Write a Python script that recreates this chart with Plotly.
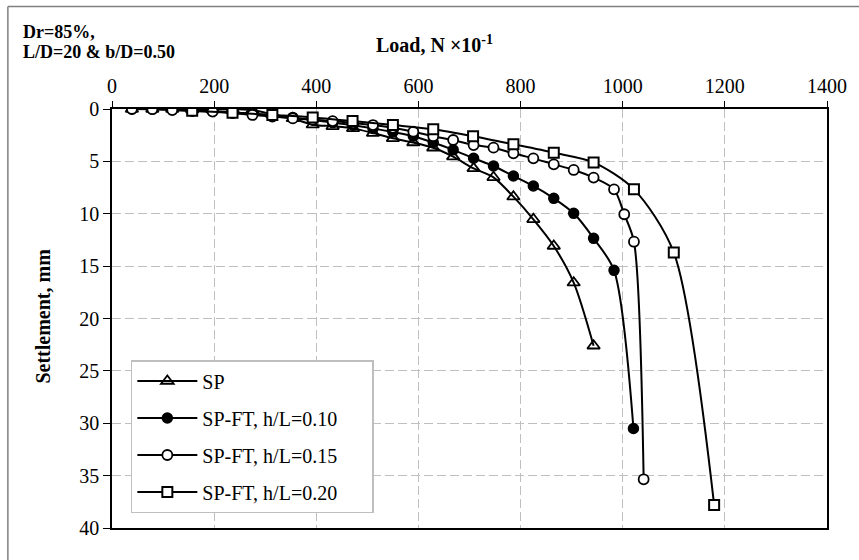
import plotly.graph_objects as go

# ---- data ----
load_sp = [39, 79, 118, 157, 197, 236, 275, 314, 354, 393, 432, 472, 511, 550, 590, 629, 668, 708, 747, 786, 825, 865, 904, 943]
settle_sp = [0, 0, 0, 0.05, 0.05, 0.0, 0.1, 0.5, 0.9, 1.5, 1.65, 1.85, 2.3, 2.8, 3.2, 3.7, 4.55, 5.67, 6.52, 8.37, 10.53, 13.08, 16.58, 22.6]

load_10 = [39, 79, 118, 157, 197, 236, 275, 314, 354, 393, 432, 472, 511, 550, 590, 629, 668, 708, 747, 786, 825, 865, 904, 943, 983, 1021]
settle_10 = [0, 0, 0.05, 0.1, 0.2, 0.3, 0.45, 0.6, 0.8, 1.05, 1.3, 1.55, 1.85, 2.2, 2.6, 3.2, 3.9, 4.7, 5.44, 6.4, 7.35, 8.53, 9.96, 12.35, 15.4, 30.5]

load_15 = [39, 79, 118, 157, 197, 236, 275, 314, 354, 393, 432, 472, 511, 550, 590, 629, 668, 708, 747, 786, 825, 865, 904, 943, 983, 1003, 1022, 1041]
settle_15 = [0, 0.02, 0.1, 0.2, 0.25, 0.4, 0.57, 0.72, 0.9, 1.02, 1.15, 1.35, 1.53, 1.8, 2.17, 2.6, 2.96, 3.44, 3.69, 4.23, 4.71, 5.28, 5.82, 6.55, 7.67, 10.05, 12.67, 35.35]

load_20 = [157, 236, 314, 393, 471, 550, 629, 707, 786, 865, 943, 1022, 1100, 1179]
settle_20 = [0.17, 0.35, 0.57, 0.8, 1.15, 1.53, 1.94, 2.6, 3.37, 4.17, 5.1, 7.67, 13.7, 37.8]

names = ["SP", "SP-FT, h/L=0.10", "SP-FT, h/L=0.15", "SP-FT, h/L=0.20"]
x_ticks = [0, 200, 400, 600, 800, 1000, 1200, 1400]
y_ticks = [0, 5, 10, 15, 20, 25, 30, 35, 40]

FONT = "Liberation Serif, Times New Roman, serif"
W, H = 859, 560
L, R, T, B = 112, 26, 109, 32
PW, PH = W - L - R, H - T - B

def px(x):
    return (x - L) / PW

def py(y):
    return (H - B - y) / PH

fig = go.Figure()

styles = [
    dict(symbol="triangle-up-open", size=11, color="black", line=dict(color="black", width=1.8)),
    dict(symbol="circle", size=10, color="black", line=dict(color="black", width=1.5)),
    dict(symbol="circle", size=10, color="white", line=dict(color="black", width=1.8)),
    dict(symbol="square", size=10, color="white", line=dict(color="black", width=2)),
]
series = [(load_sp, settle_sp), (load_10, settle_10), (load_15, settle_15), (load_20, settle_20)]

for i, ((xs, ys), nm, st) in enumerate(zip(series, names, styles)):
    fig.add_trace(go.Scatter(
        x=xs, y=ys, name=nm + "\u00a0" * 6, mode="lines+markers",
        line=dict(color="black", width=2, shape="spline", smoothing=0.8),
        marker=st, legendgroup="g%d" % i,
    ))

grid = dict(showgrid=True, gridcolor="#BFBFBF", gridwidth=1, griddash="9px,4px")

fig.update_xaxes(
    range=[0, 1400], tickvals=x_ticks, side="top",
    showline=True, linecolor="black", linewidth=1.5, mirror=True,
    ticks="outside", ticklen=6, tickcolor="black", tickwidth=1,
    tickfont=dict(family=FONT, size=20, color="black"),
    zeroline=False, **grid,
)
fig.update_yaxes(
    range=[40, 0], tickvals=y_ticks,
    showline=True, linecolor="black", linewidth=1.5, mirror=True,
    ticks="outside", ticklen=7, tickcolor="black", tickwidth=1,
    tickfont=dict(family=FONT, size=20, color="black"),
    zeroline=False, **grid,
)

fig.update_layout(
    width=W, height=H,
    margin=dict(l=L, r=R, t=T, b=B),
    paper_bgcolor="white", plot_bgcolor="white",
    font=dict(family=FONT, color="black"),
    legend=dict(
        x=px(131), y=py(360), xanchor="left", yanchor="top",
        bgcolor="white", bordercolor="#BFBFBF", borderwidth=1.5,
        font=dict(family=FONT, size=20, color="black"),
        tracegroupgap=8, itemwidth=60,
    ),
    annotations=[
        dict(text="<b>Dr=85%,</b>", xref="paper", yref="paper", x=px(20), y=py(32),
             xanchor="left", yanchor="middle", showarrow=False,
             font=dict(family=FONT, size=18, color="black")),
        dict(text="<b>L/D=20 &amp; b/D=0.50</b>", xref="paper", yref="paper", x=px(20), y=py(52),
             xanchor="left", yanchor="middle", showarrow=False,
             font=dict(family=FONT, size=18, color="black")),
        dict(text="<b>Load, N ×10<sup>-1</sup></b>", xref="paper", yref="paper", x=px(437), y=py(44),
             xanchor="center", yanchor="middle", showarrow=False,
             font=dict(family=FONT, size=20, color="black")),
        dict(text="<b>Settlement, mm</b>", xref="paper", yref="paper", x=px(42), y=py(316),
             xanchor="center", yanchor="middle", showarrow=False, textangle=-90,
             font=dict(family=FONT, size=20, color="black")),
    ],
    shapes=[
        dict(type="line", xref="paper", yref="paper", x0=px(7), x1=px(900), y0=py(6.5), y1=py(6.5),
             line=dict(color="#808080", width=1.5)),
        dict(type="line", xref="paper", yref="paper", x0=px(7), x1=px(7), y0=py(6.5), y1=py(600),
             line=dict(color="#808080", width=1.5)),
    ],
)

fig.write_html(
    "out.html",
    config={"displayModeBar": False},
    post_script="document.body.style.margin='0';document.body.style.padding='0';",
)
